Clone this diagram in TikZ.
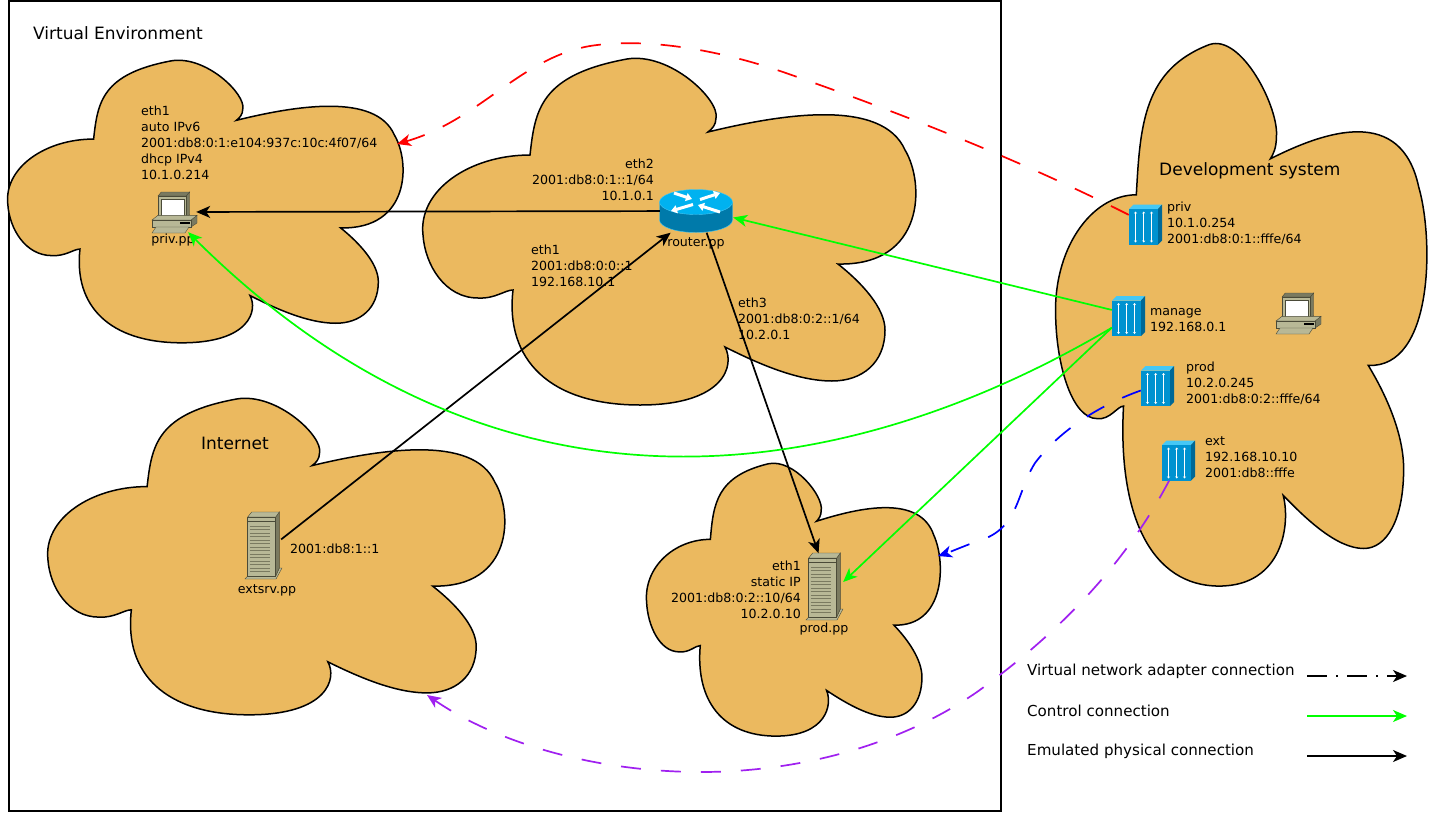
\documentclass[tikz,border=0pt]{standalone}
\usepackage{fontspec}
\setmainfont{DejaVu Sans}
\usetikzlibrary{arrows.meta}

\definecolor{cloudfill}{RGB}{235,185,95}
\definecolor{boxlight}{RGB}{184,184,150}
\definecolor{boxmid}{RGB}{122,122,96}
\definecolor{boxdark}{RGB}{74,74,56}
\definecolor{adapterfront}{RGB}{0,146,208}
\definecolor{adaptertop}{RGB}{70,200,245}
\definecolor{adapterside}{RGB}{0,104,150}
\definecolor{routertop}{RGB}{0,178,240}
\definecolor{routerside}{RGB}{0,122,170}
\definecolor{extpurple}{RGB}{160,32,240}

\tikzset{
    bigtext/.style={font=\fontsize{17}{20}\selectfont, inner sep=0pt, anchor=west},
    legendtext/.style={font=\fontsize{15.1}{20}\selectfont, inner sep=0pt, anchor=west},
    smalltext/.style={font=\fontsize{12.6}{16}\selectfont, inner sep=0pt, align=left, anchor=west},
    righttext/.style={font=\fontsize{12.6}{16}\selectfont, inner sep=0pt, align=right, anchor=east},
    nametext/.style={font=\fontsize{12.6}{16}\selectfont, inner sep=0pt},
    iconbox/.style={inner sep=0pt, minimum width=#1},
    tip/.style={-{Stealth[length=14,width=12,inset=4]}},
    physical/.style={tip, line width=1.7, black},
    control/.style={tip, line width=1.7, green},
    virtual/.style={tip, line width=1.7, dash pattern=on 20 off 20},
    pcicon/.pic={
        \draw[boxdark, fill=boxmid] (6,4) -- (9.3,0) -- (37.7,0) -- (34.3,4) -- cycle;
        \draw[boxdark, fill=boxmid] (34.3,4) -- (37.7,0) -- (37.7,22.7) -- (34.3,26) -- cycle;
        \draw[boxdark, fill=boxlight] (6,4) rectangle (34.3,26);
        \draw[boxdark, fill=white] (9,6.7) rectangle (32,23.7);
        \draw[boxdark, fill=boxmid] (39,28) -- (45,23.3) -- (45,31) -- (39,35) -- cycle;
        \draw[boxdark, fill=boxlight] (0,28) -- (6,23.3) -- (45,23.3) -- (39,28) -- cycle;
        \draw[boxdark, fill=boxlight] (0,28) rectangle (39,35);
        \fill[black] (28.3,30) rectangle (37.7,32);
        \draw[boxdark, fill=boxlight] (0,41) -- (4,35) -- (37,35) -- (33,41) -- cycle;
    },
    adaptericon/.pic={
        \fill[adaptertop] (0,4.5) -- (4.5,0) -- (33,0) -- (29,4.5) -- cycle;
        \fill[adapterside] (29,4.5) -- (33,0) -- (33,36) -- (29,40) -- cycle;
        \fill[adapterfront] (0,4.5) rectangle (29,40);
        \foreach \stripe in {6.5,14.7,22.5}
            \draw[white, line width=1, {Stealth[length=2,width=3]}-{Stealth[length=2,width=3]}] (\stripe,7) -- (\stripe,38);
    },
    servericon/.pic={
        \draw[boxdark, fill=boxlight] (2.7,64) -- (0,67) -- (31,67) -- (37,56) -- (34.3,56) -- (30.7,64) -- cycle;
        \draw[boxdark, fill=boxmid] (30.7,5) -- (34.3,0) -- (34.3,56) -- (30.7,64) -- cycle;
        \draw[boxdark, fill=boxlight] (2.7,5) -- (6.7,0) -- (34.3,0) -- (30.7,5) -- cycle;
        \draw[boxdark, line width=1, fill=boxlight] (2.7,5) rectangle (30.7,64);
        \draw[boxdark] (2.7,9) -- (30.7,9);
        \foreach \stripe in {14,17.5,...,62}
            \draw[boxmid, line width=1] (4.5,\stripe) -- (25,\stripe);
    },
    routericon/.pic={
        \draw[adaptertop, fill=routerside] (-36.5,0) -- (-36.5,18) .. controls (-36.5,25) and (-20,30.5) .. (0,30.5)
            .. controls (20,30.5) and (36.5,25) .. (36.5,18) -- (36.5,0) -- cycle;
        \draw[adaptertop, fill=routertop] (0,0) ellipse [x radius=36.5, y radius=12.5];
        \draw[white, line width=3, -{Stealth[length=6,width=8,inset=0]}] (-22,-9) -- (-4,-3);
        \draw[white, line width=3, -{Stealth[length=6,width=8,inset=0]}] (4,-2.5) -- (24,-9);
        \draw[white, line width=3, -{Stealth[length=6,width=8,inset=0]}] (-3,2.5) -- (-25,9);
        \draw[white, line width=3, -{Stealth[length=6,width=8,inset=0]}] (24,10) -- (2,3);
    },
}

\newcommand{\cloudshape}[4]{
    \draw[line width=1.5, fill=cloudfill, shift={(#1,#2)}, xscale=#3, yscale=#4]
        (108,97) .. controls (113,52) and (118,17) .. (205,1)
        .. controls (248,-6) and (298,42) .. (294,60)
        .. controls (294,67) and (290,71) .. (286,74)
        .. controls (360,56) and (460,40) .. (483,92)
        .. controls (503,125) and (503,208) .. (416,206)
        .. controls (440,225) and (463,250) .. (463,272)
        .. controls (463,305) and (440,323) .. (410,323)
        .. controls (375,323) and (335,305) .. (303,289)
        .. controls (313,307) and (303,347) .. (218,347)
        .. controls (128,347) and (83,302) .. (91,232)
        .. controls (83,232) and (73,241) .. (56,240)
        .. controls (23,240) and (3,207) .. (1,177)
        .. controls (-4,132) and (48,97) .. (108,97) -- cycle;
}

\begin{document}
\begin{tikzpicture}[x=1pt, y=-1pt]
    \useasboundingbox (0,0) rectangle (1436,812);
    \fill[white] (0,0) rectangle (1436,812);
    \draw[line width=2] (9,1) rectangle (1001,811);

    % clouds
    \cloudshape{7}{60}{0.802}{0.815}
    \cloudshape{422}{58}{1}{1}
    \cloudshape{47}{398}{0.927}{0.913}
    \cloudshape{646}{463}{0.596}{0.787}
    \cloudshape{1055}{43}{0.753}{1.565}

    % icons
    \pic at (152,192) {pcicon};
    \pic at (1276,293) {pcicon};
    \pic at (696,202) {routericon};
    \pic at (245,512) {servericon};
    \pic at (806,553) {servericon};
    \pic at (1129,204.5) {adaptericon};
    \pic at (1112,296) {adaptericon};
    \pic at (1141,366) {adaptericon};
    \pic at (1162,440.5) {adaptericon};

    % boxes the connectors end on
    \node[iconbox=44, minimum height=40] (privpc) at (174,212) {};
    \node[iconbox=73, minimum height=43] (router) at (696.5,211) {};
    \node[iconbox=36, minimum height=67] (extsrv) at (263,546) {};
    \node[iconbox=37, minimum height=67] (prodsrv) at (824.5,587) {};
    \node[iconbox=33, minimum height=40] (privad) at (1145.5,224.5) {};
    \node[iconbox=33, minimum height=40] (managead) at (1128.5,316) {};
    \node[iconbox=33, minimum height=40] (prodad) at (1157.5,386) {};
    \node[iconbox=33, minimum height=40] (extad) at (1178.5,460.5) {};
    \coordinate (privcloud) at (397,144);
    \coordinate (prodcloud) at (938,556);
    \coordinate (intcloud) at (427,695);

    % labels
    \node[bigtext] (venvlabel) at (33,33) {Virtual Environment};
    \node[bigtext] (intlabel) at (201,443) {Internet};
    \node[bigtext] (devlabel) at (1159,171) {Development system};
    \node[smalltext] (privpclabel) at (141,143) {eth1\\auto IPv6\\2001:db8:0:1:e104:937c:10c:4f07/64\\dhcp IPv4\\10.1.0.214};
    \node[nametext] (privpcname) at (173,240) {priv.pp};
    \node[righttext] (eth2label) at (654,179.5) {eth2\\2001:db8:0:1::1/64\\10.1.0.1};
    \node[nametext] (routername) at (696,243) {router.pp};
    \node[smalltext] (eth1label) at (531,266) {eth1\\2001:db8:0:0::1\\192.168.10.1};
    \node[smalltext] (eth3label) at (738,319) {eth3\\2001:db8:0:2::1/64\\10.2.0.1};
    \node[smalltext] (extaddr) at (290,549) {2001:db8:1::1};
    \node[nametext] (extname) at (267,590) {extsrv.pp};
    \node[righttext] (prodlabel) at (801,590) {eth1\\static IP\\2001:db8:0:2::10/64\\10.2.0.10};
    \node[nametext] (prodname) at (824,629) {prod.pp};
    \node[smalltext] (privadlabel) at (1167,223) {priv\\10.1.0.254\\2001:db8:0:1::fffe/64};
    \node[smalltext] (manageadlabel) at (1150,320) {manage\\192.168.0.1};
    \node[smalltext] (prodadlabel) at (1186,383) {prod\\10.2.0.245\\2001:db8:0:2::fffe/64};
    \node[smalltext] (extadlabel) at (1205,457) {ext\\192.168.10.10\\2001:db8::fffe};

    % emulated physical connections
    \draw[physical] (router) -- (privpc);
    \draw[physical] (extsrv.20) -- (router.-140);
    \draw[physical] (router.-65) -- (prodsrv.100);

    % control connections
    \draw[control] (managead.160) -- (router.-10);
    \draw[control] (managead.215) -- (prodsrv.15);
    \draw[control] (managead.215) .. controls (840,488) and (497,540) .. (privpc.-55);

    % virtual adapter connections
    \draw[virtual, red] (privad.150) .. controls (1060,180) and (950,130) .. (783,72)
        .. controls (710,47) and (640,38) .. (590,46)
        .. controls (520,58) and (480,120) .. (privcloud);
    \draw[virtual, blue] (prodad.195) .. controls (1100,405) and (1060,430) .. (1035,463)
        .. controls (1015,495) and (1020,530) .. (975,542)
        .. controls (962,547) and (950,552) .. (prodcloud);
    \draw[virtual, extpurple] (extad.-115) .. controls (1130,555) and (1070,625) .. (977,692)
        .. controls (900,745) and (800,772) .. (701,772)
        .. controls (600,772) and (500,745) .. (intcloud);

    % legend
    \node[legendtext] (legendvirtual) at (1027,671) {Virtual network adapter connection};
    \node[legendtext] (legendcontrol) at (1027,711) {Control connection};
    \node[legendtext] (legendphysical) at (1027,751) {Emulated physical connection};
    \coordinate (virtualfrom) at (1307,676);
    \coordinate (virtualto) at (1407,676);
    \coordinate (controlfrom) at (1307,716);
    \coordinate (controlto) at (1407,716);
    \coordinate (physicalfrom) at (1307,756);
    \coordinate (physicalto) at (1407,756);
    \draw[tip, line width=1.7, dash pattern=on 20 off 9 on 2 off 9] (virtualfrom) -- (virtualto);
    \draw[control] (controlfrom) -- (controlto);
    \draw[physical] (physicalfrom) -- (physicalto);
\end{tikzpicture}
\end{document}
